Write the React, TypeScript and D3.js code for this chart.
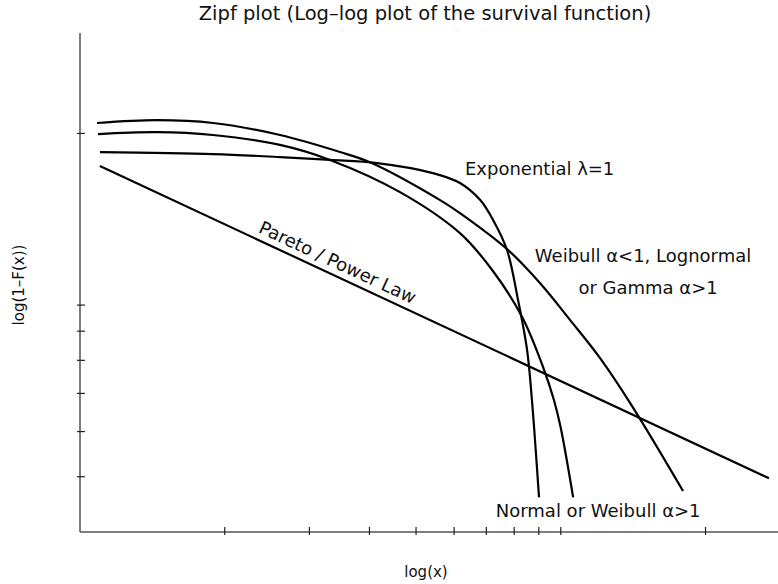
import React, { useEffect } from 'react';
import * as d3 from 'd3';

const W = 778;
const H = 584;

// x ticks (log scale) and y ticks (log scale)
const xTicks = [2, 3, 4, 5, 6, 7, 8, 9, 10, 20];
const yTicks = [0.05, 0.06, 0.07, 0.08, 0.09, 0.1, 0.2];

// Weibull a<1 / Lognormal / Gamma a>1
const weibullX = [1.085, 1.446, 1.891, 2.606, 3.475, 4.01, 5.61, 6.17, 7.77, 9.05, 10.46, 12.07, 14.07, 17.96];
const weibullY = [0.2086, 0.211, 0.2086, 0.1987, 0.1855, 0.178, 0.1528, 0.145, 0.1249, 0.1093, 0.0941, 0.0807, 0.0665, 0.0472];

// Normal or Weibull a>1
const normalX = [1.09, 1.446, 1.891, 2.606, 3.31, 4.63, 6.17, 7.2, 8.31, 9.19, 9.68, 9.99, 10.61];
const normalY = [0.1995, 0.201, 0.1987, 0.1909, 0.1797, 0.1578, 0.1337, 0.1152, 0.0953, 0.0778, 0.0681, 0.0611, 0.046];

// Exponential lambda=1
const expoX = [1.1, 1.891, 2.606, 3.31, 4.15, 5.42, 6.17, 6.8, 7.23, 7.73, 8.15, 8.51, 8.71, 9.01];
const expoY = [0.1855, 0.184, 0.1818, 0.1797, 0.1774, 0.1704, 0.1637, 0.1528, 0.141, 0.1249, 0.102, 0.0834, 0.0681, 0.046];

// Pareto / power law (straight in log-log)
const paretoX = [1.1, 27.1];
const paretoY = [0.1753, 0.0497];

const font = '"DejaVu Sans", Verdana, sans-serif';

export default function App() {
  useEffect(() => {
    document.body.style.margin = '0';
  }, []);

  const x = d3.scaleLog().domain([1, 28.3]).range([80, 778]);
  const y = d3.scaleLog().domain([0.04, 0.3]).range([532, 33]);

  const line = d3
    .line<[number, number]>()
    .x(d => x(d[0]))
    .y(d => y(d[1]))
    .curve(d3.curveCatmullRom.alpha(0.5));

  const series = [
    { key: 'weibull', xs: weibullX, ys: weibullY },
    { key: 'normal', xs: normalX, ys: normalY },
    { key: 'expo', xs: expoX, ys: expoY },
    { key: 'pareto', xs: paretoX, ys: paretoY },
  ];

  const x0 = x.range()[0];
  const yBase = y.range()[0];

  // angle of the pareto line for its label
  const ang =
    (Math.atan2(y(paretoY[1]) - y(paretoY[0]), x(paretoX[1]) - x(paretoX[0])) * 180) / Math.PI;

  return (
    <svg width={W} height={H} style={{ display: 'block', background: '#fff' }} fontFamily={font}>
      <text x={425} y={20} textAnchor="middle" fontSize={19.5} fill="#111">
        Zipf plot (Log–log plot of the survival function)
      </text>

      {/* curves */}
      {series.map(s => (
        <path
          key={s.key}
          d={line(s.xs.map((v, i) => [v, s.ys[i]] as [number, number])) || ''}
          fill="none"
          stroke="#000"
          strokeWidth={2.2}
        />
      ))}

      {/* axes */}
      <line x1={x0} x2={x0} y1={33} y2={yBase} stroke="#444" strokeWidth={1.4} />
      <line x1={x0} x2={W} y1={yBase} y2={yBase} stroke="#555" strokeWidth={1.6} />
      {yTicks.map(t => (
        <line key={'y' + t} x1={x0 - 3} x2={x0 + 5} y1={y(t)} y2={y(t)} stroke="#222" strokeWidth={1.2} />
      ))}
      {xTicks.map(t => (
        <line key={'x' + t} x1={x(t)} x2={x(t)} y1={yBase - 5} y2={yBase + 3} stroke="#222" strokeWidth={1.2} />
      ))}

      {/* axis titles */}
      <text x={426} y={577} textAnchor="middle" fontSize={15} fill="#111">
        log(x)
      </text>
      <text
        transform={`translate(24, 285) rotate(-90)`}
        textAnchor="middle"
        fontSize={15}
        fill="#111"
      >
        log(1–F(x))
      </text>

      {/* annotations */}
      <text x={x(6.32)} y={y(0.169)} fontSize={18} fill="#111">
        Exponential λ=1
      </text>
      <text x={x(14.83)} y={y(0.119)} textAnchor="middle" fontSize={18} fill="#111">
        Weibull α&lt;1, Lognormal
      </text>
      <text x={x(15.19)} y={y(0.1045)} textAnchor="middle" fontSize={18} fill="#111">
        or Gamma α&gt;1
      </text>
      <text x={x(11.96)} y={y(0.0425)} textAnchor="middle" fontSize={18} fill="#111">
        Normal or Weibull α&gt;1
      </text>
      <text
        transform={`translate(${x(3.39)}, ${y(0.1161)}) rotate(${ang})`}
        textAnchor="middle"
        fontSize={18}
        fill="#111"
      >
        Pareto / Power Law
      </text>
    </svg>
  );
}
